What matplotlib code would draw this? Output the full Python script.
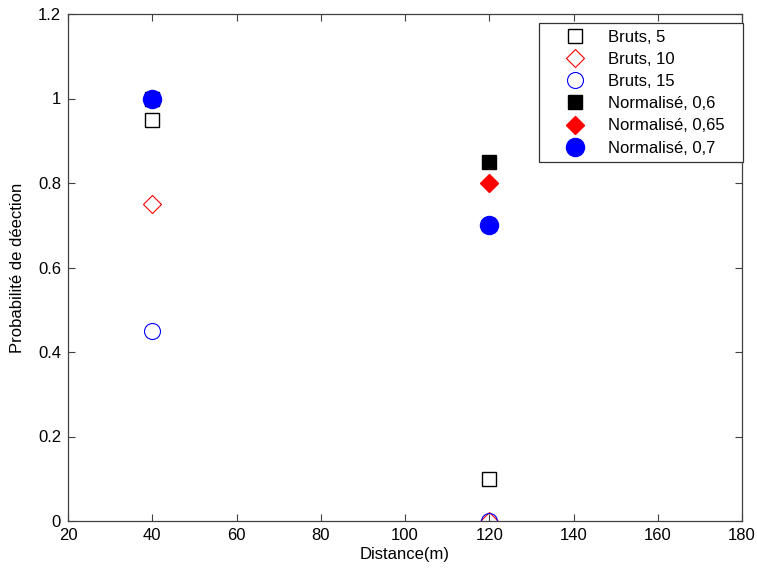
import matplotlib.pyplot as plt

plt.rcParams['font.family'] = ['Liberation Sans', 'DejaVu Sans']

# données
distance = [40, 120]
bruts_5 = [0.95, 0.1]
bruts_10 = [0.75, 0.0]
bruts_15 = [0.45, 0.0]
norm_06 = [1.0, 0.85]
norm_065 = [1.0, 0.8]
norm_07 = [1.0, 0.7]

fig = plt.figure(figsize=(7.57, 5.69), dpi=100)
ax = fig.add_axes([68 / 757, 48 / 569, 674 / 757, 507 / 569])

ax.plot(distance, bruts_5, 's', color='black', mfc='none', ms=10, mew=1, label='Bruts, 5')
ax.plot(distance, bruts_10, 'D', color='red', mfc='none', ms=9, mew=0.8, label='Bruts, 10')
ax.plot(distance, bruts_15, 'o', color='blue', mfc='none', ms=11.5, mew=0.8, label='Bruts, 15')
ax.plot(distance, norm_06, 's', color='black', ms=10, label='Normalisé, 0,6')
ax.plot(distance, norm_065, 'D', color='red', ms=9, label='Normalisé, 0,65')
ax.plot(distance, norm_07, 'o', color='blue', ms=13, label='Normalisé, 0,7')

ax.set_xlim(20, 180)
ax.set_ylim(0, 1.2)
ax.set_xticks(range(20, 181, 20))
ax.set_yticks([0, 0.2, 0.4, 0.6, 0.8, 1, 1.2])
ax.set_yticklabels(['0', '0.2', '0.4', '0.6', '0.8', '1', '1.2'])
ax.tick_params(direction='in', top=True, right=True, labelsize=12, length=5,
               color='0.25', pad=5)
for s in ax.spines.values():
    s.set_linewidth(0.9)
    s.set_color('0.25')

ax.set_xlabel('Distance(m)', fontsize=12, labelpad=3)
ax.set_ylabel('Probabilité de déection', fontsize=12, labelpad=9)

leg = ax.legend(loc='upper left', mode='expand', bbox_to_anchor=(0.699, 0, 0.3025, 0.982),
                borderaxespad=0, fontsize=12, fancybox=False, edgecolor='0.2',
                framealpha=1, borderpad=0.4, labelspacing=0.43,
                handlelength=3.5, handletextpad=0.26)
leg.get_frame().set_linewidth(0.9)

plt.savefig('out.png', dpi=100)
